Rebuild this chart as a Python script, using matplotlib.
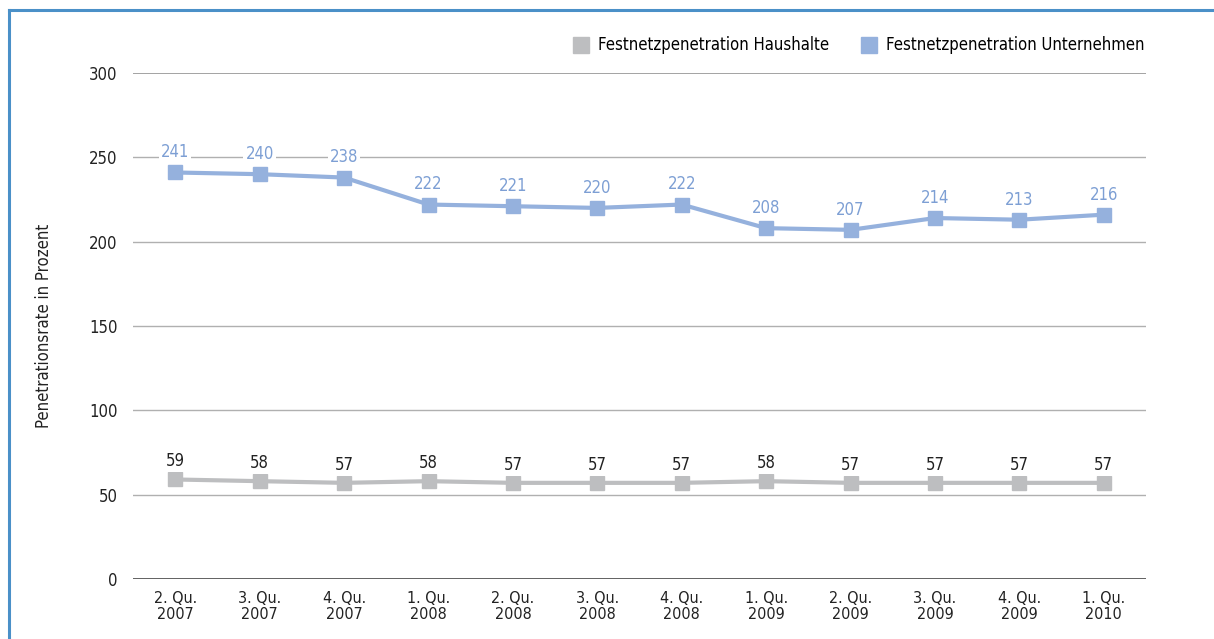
import matplotlib.pyplot as plt
from matplotlib.lines import Line2D

plt.rcParams["font.family"] = ["Liberation Sans Narrow", "DejaVu Sans"]
plt.rcParams["font.stretch"] = "condensed"

# Quarterly data
quarters = ["2. Qu.\n2007", "3. Qu.\n2007", "4. Qu.\n2007", "1. Qu.\n2008",
            "2. Qu.\n2008", "3. Qu.\n2008", "4. Qu.\n2008", "1. Qu.\n2009",
            "2. Qu.\n2009", "3. Qu.\n2009", "4. Qu.\n2009", "1. Qu.\n2010"]
haushalte = [59, 58, 57, 58, 57, 57, 57, 58, 57, 57, 57, 57]
unternehmen = [241, 240, 238, 222, 221, 220, 222, 208, 207, 214, 213, 216]
yticks = [0, 50, 100, 150, 200, 250, 300]

c_grey = "#bdbec0"
c_blue = "#95b1dd"
c_blue_txt = "#7d9fd4"

fig = plt.figure(figsize=(12.14, 6.39), dpi=100)
ax = fig.add_axes([0.1096, 0.0939, 0.8344, 0.7919])

x = list(range(len(quarters)))

ax.plot(x, haushalte, color=c_grey, lw=3.0, marker="s", ms=9.5,
        mec=c_grey, mfc=c_grey, zorder=3, solid_capstyle="butt")
ax.plot(x, unternehmen, color=c_blue, lw=3.0, marker="s", ms=9.5,
        mec=c_blue, mfc=c_blue, zorder=3, solid_capstyle="butt")

box = dict(facecolor="white", edgecolor="none", pad=1.5)
for i, v in enumerate(haushalte):
    ax.annotate(str(v), (i, v), xytext=(0, 6.5), textcoords="offset points",
                ha="center", va="bottom", fontsize=12, color="#222222",
                bbox=box, zorder=4)
for i, v in enumerate(unternehmen):
    ax.annotate(str(v), (i, v), xytext=(0, 8), textcoords="offset points",
                ha="center", va="bottom", fontsize=12, color=c_blue_txt,
                bbox=box, zorder=4)

# horizontal rules
for t in yticks:
    if t == 0:
        col, lw = "#555555", 1.3
    elif t == 300:
        col, lw = "#8a8a8a", 1.1
    else:
        col, lw = "#b0b0b0", 1.0
    ax.axhline(t, color=col, lw=lw, zorder=1)

ax.set_xlim(-0.5, len(quarters) - 0.5)
ax.set_ylim(0, 300)
ax.set_xticks(x)
ax.set_xticklabels(quarters, fontsize=11.5, color="#222222", linespacing=1.05)
ax.set_yticks(yticks)
ax.set_yticklabels([str(t) for t in yticks], fontsize=12, color="#222222")
ax.tick_params(length=0)
ax.tick_params(axis="y", pad=11)
ax.tick_params(axis="x", pad=9)
for s in ax.spines.values():
    s.set_visible(False)

fig.text(0.036, 0.49, "Penetrationsrate in Prozent", rotation=90,
         ha="center", va="center", fontsize=12, color="#222222")

handles = [
    Line2D([], [], ls="none", marker="s", ms=12, mfc=c_grey, mec=c_grey),
    Line2D([], [], ls="none", marker="s", ms=12, mfc=c_blue, mec=c_blue),
]
fig.legend(handles, ["Festnetzpenetration Haushalte", "Festnetzpenetration Unternehmen"],
           loc="center right", bbox_to_anchor=(0.955, 0.929), ncol=2,
           frameon=False, fontsize=12, handlelength=1.0, handletextpad=0.5,
           columnspacing=1.9)

# frame on left and top
frame = "#4a90c8"
fig.add_artist(Line2D([0.0074, 0.0074], [0.0, 0.985], color=frame, lw=2.2,
                      transform=fig.transFigure))
fig.add_artist(Line2D([0.0074, 1.0], [0.985, 0.985], color=frame, lw=2.2,
                      transform=fig.transFigure))

fig.savefig("out.png", dpi=100)
